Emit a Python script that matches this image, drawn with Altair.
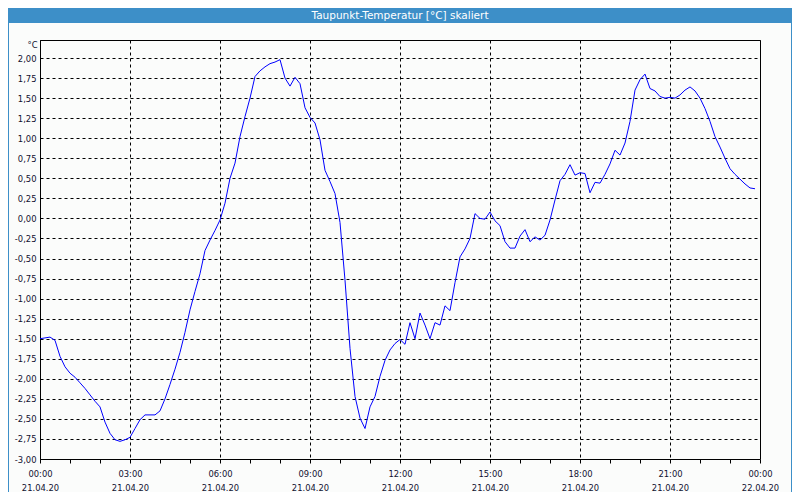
import altair as alt
import pandas as pd

# ---------------- data ----------------
title_text = "Taupunkt-Temperatur [°C] skaliert"
unit_label = "°C"

# one reading every 10 minutes on 21.04.20
minutes = list(range(0, 1440, 10))
dew_point = [
    -1.50, -1.49, -1.48, -1.52, -1.72, -1.85,
    -1.93, -1.98, -2.05, -2.12, -2.20, -2.28,
    -2.35, -2.54, -2.68, -2.76, -2.78, -2.76,
    -2.73, -2.62, -2.51, -2.45, -2.45, -2.45,
    -2.40, -2.25, -2.07, -1.88, -1.67, -1.42,
    -1.14, -0.91, -0.69, -0.40, -0.27, -0.15,
    -0.02, 0.19, 0.50, 0.69, 1.02, 1.27,
    1.50, 1.77, 1.84, 1.89, 1.93, 1.95,
    1.98, 1.75, 1.65, 1.76, 1.68, 1.38,
    1.26, 1.19, 0.98, 0.60, 0.46, 0.31,
    -0.05, -0.77, -1.62, -2.22, -2.49, -2.62,
    -2.35, -2.22, -1.97, -1.77, -1.64, -1.56,
    -1.51, -1.57, -1.30, -1.50, -1.18, -1.33,
    -1.50, -1.30, -1.33, -1.09, -1.15, -0.80,
    -0.48, -0.38, -0.25, 0.06, 0.00, -0.01,
    0.08, -0.03, -0.09, -0.29, -0.37, -0.37,
    -0.22, -0.14, -0.29, -0.23, -0.27, -0.21,
    -0.02, 0.23, 0.47, 0.55, 0.67, 0.54,
    0.57, 0.56, 0.32, 0.45, 0.44, 0.55,
    0.68, 0.85, 0.79, 0.94, 1.21, 1.60,
    1.73, 1.80, 1.62, 1.59, 1.52, 1.50,
    1.51, 1.50, 1.54, 1.60, 1.64, 1.59,
    1.50, 1.37, 1.21, 1.02, 0.89, 0.75,
    0.62, 0.55, 0.49, 0.43, 0.38, 0.37,
]
times = [f"2020-04-21T{m // 60:02d}:{m % 60:02d}:00Z" for m in minutes]

y_ticks = [-3.0, -2.75, -2.5, -2.25, -2.0, -1.75, -1.5, -1.25, -1.0, -0.75, -0.5,
           -0.25, 0.0, 0.25, 0.5, 0.75, 1.0, 1.25, 1.5, 1.75, 2.0]
y_domain = [-3.0, 2.225]

hour_ticks = [alt.DateTime(year=2020, month=4, date=21, hours=h, utc=True) for h in range(24)]
hour_ticks.append(alt.DateTime(year=2020, month=4, date=22, hours=0, utc=True))
x_domain = [hour_ticks[0], hour_ticks[-1]]

df = pd.DataFrame({"t": times, "v": dew_point})
deco = pd.DataFrame({"k": [0]})

# ---------------- styling ----------------
PLOT_W, PLOT_H = 720, 419
PAD_L, PAD_T, PAD_R, PAD_B = 32, 32, 32, 33
FONT = "DejaVu Sans"
TXT = "#101030"
BLUE = "#3d8fc8"
BG = "#fbfcfb"

x_axis = alt.Axis(
    values=hour_ticks,
    labelExpr="utchours(datum.value) % 3 == 0 ? [utcFormat(datum.value, '%H:%M'), utcFormat(datum.value, '%d.%m.%y')] : ''",
    labelOverlap=False, labelFlush=False,
    labelFont=FONT, labelFontSize=8.4, labelColor=TXT,
    labelLineHeight=14.5, labelBaseline="top", labelPadding=6,
    ticks=True, tickSize=4, tickColor="black", tickWidth=1,
    domain=False,
    grid=True, gridColor="black", gridDash=[3, 3], gridWidth=1,
    gridOpacity={"condition": {"test": "utchours(datum.value) % 3 == 0", "value": 1}, "value": 0},
    title=None,
)

y_axis = alt.Axis(
    values=y_ticks,
    labelExpr="replace(replace(format(datum.value, '.2f'), '.', ','), '\u2212', '-')",
    labelOverlap=False, labelFlush=False,
    labelFont=FONT, labelFontSize=8.4, labelColor=TXT, labelPadding=4,
    ticks=False, tickSize=0,
    domain=True, domainColor="black", domainWidth=1,
    grid=True, gridColor="black", gridDash=[3, 3], gridWidth=1,
    title=unit_label, titleAngle=0, titleAlign="right", titleBaseline="middle",
    titleX=-3, titleY=4, titleFont=FONT, titleFontSize=8.4,
    titleFontWeight="normal", titleColor=TXT,
)

line = alt.Chart(df).mark_line(color="#0000ff", strokeWidth=1).encode(
    x=alt.X("t:T", scale=alt.Scale(type="utc", domain=x_domain), axis=x_axis),
    y=alt.Y("v:Q", scale=alt.Scale(domain=y_domain, nice=False, zero=False), axis=y_axis),
)

title_bar = alt.Chart(deco).mark_rect(color=BLUE).encode(
    x=alt.value(-PAD_L), x2=alt.value(PLOT_W + PAD_R),
    y=alt.value(-PAD_T), y2=alt.value(-PAD_T + 15),
)
title_txt = alt.Chart(deco).mark_text(
    color="white", font=FONT, fontSize=10.5, baseline="middle", align="center"
).encode(
    x=alt.value(PLOT_W / 2), y=alt.value(-PAD_T + 7.5), text=alt.value(title_text)
)
border_l = alt.Chart(deco).mark_rule(color=BLUE, strokeWidth=1).encode(
    x=alt.value(-PAD_L + 0.5), y=alt.value(-PAD_T), y2=alt.value(PLOT_H + PAD_B)
)
border_r = alt.Chart(deco).mark_rule(color=BLUE, strokeWidth=1).encode(
    x=alt.value(PLOT_W + PAD_R - 0.5), y=alt.value(-PAD_T), y2=alt.value(PLOT_H + PAD_B)
)

chart = alt.layer(title_bar, title_txt, border_l, border_r, line).properties(
    width=PLOT_W,
    height=PLOT_H,
    background=BG,
    padding={"left": PAD_L, "top": PAD_T, "right": PAD_R, "bottom": PAD_B},
    autosize=alt.AutoSizeParams(type="none"),
).configure_view(stroke="black", strokeWidth=1)

chart.save("out.html", embed_options={"renderer": "svg", "actions": False})
